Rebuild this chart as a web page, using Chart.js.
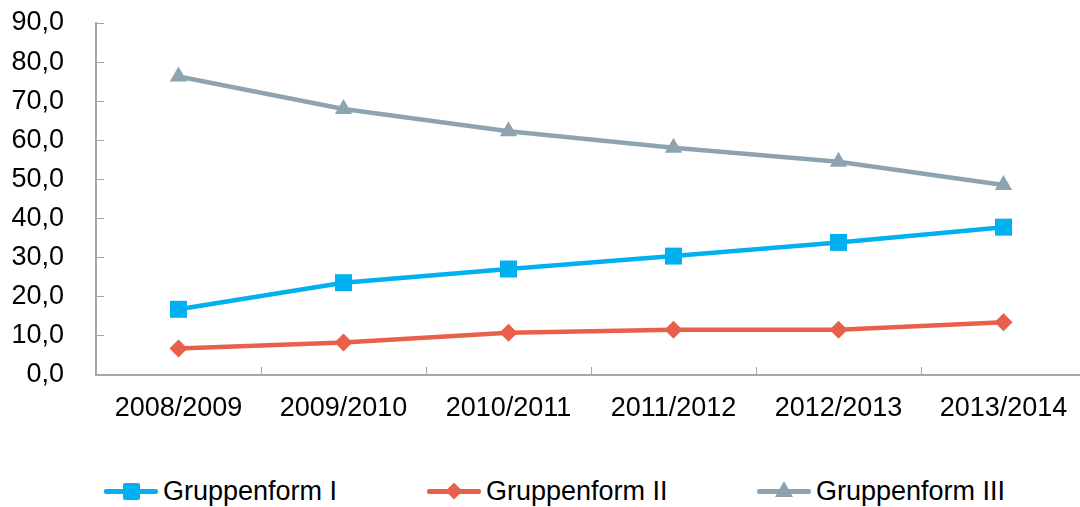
<!DOCTYPE html>
<html>
<head>
<meta charset="utf-8">
<script src="https://cdn.jsdelivr.net/npm/chart.js@4/dist/chart.umd.min.js"></script>
<style>
  html, body { margin: 0; padding: 0; background: #fff; overflow: hidden; }
  body { width: 1080px; height: 507px; position: relative; font-family: "Liberation Sans", Arial, sans-serif; }
  #wrap { position: absolute; left: 0; top: 0; width: 1098px; height: 440px; }
  #legend { position: absolute; left: 0; top: 474px; width: 1080px; height: 34px; }
  .item { position: absolute; top: 0; height: 34px; display: flex; align-items: center; }
  .sym { position: relative; width: 54px; height: 34px; }
  .sym .ln { position: absolute; left: 0; top: 15px; width: 54px; height: 5px; border-radius: 2px; }
  .sym .mk { position: absolute; }
  .txt { margin-left: 5px; font-size: 27px; color: #000; white-space: nowrap; }
</style>
</head>
<body>
<div id="wrap"><canvas id="chart"></canvas></div>
<div id="legend"></div>
<script>
// Daten
const years = ['2008/2009', '2009/2010', '2010/2011', '2011/2012', '2012/2013', '2013/2014'];
const gruppe1 = [16.8, 23.6, 27.1, 30.4, 33.9, 37.8];
const gruppe2 = [6.8, 8.3, 10.8, 11.6, 11.6, 13.5];
const gruppe3 = [76.3, 68.0, 62.3, 58.1, 54.5, 48.6];
const seriesNames = ['Gruppenform I', 'Gruppenform II', 'Gruppenform III'];
const yTicks = [0, 10, 20, 30, 40, 50, 60, 70, 80, 90];

const colors = ['#00b0f0', '#e8604a', '#8ea3b0'];
const axisColor = '#a6a6a6';
const tickFont = { family: '"Liberation Sans", Arial, sans-serif', size: 27 };

const chart = new Chart(document.getElementById('chart'), {
    type: 'line',
    data: {
        labels: years,
        datasets: [{
            label: seriesNames[0],
            data: gruppe1,
            borderColor: colors[0],
            backgroundColor: colors[0],
            borderWidth: 4.5,
            pointStyle: 'rect',
            pointRadius: 12,
            pointBorderWidth: 0
        }, {
            label: seriesNames[1],
            data: gruppe2,
            borderColor: colors[1],
            backgroundColor: colors[1],
            borderWidth: 4.5,
            pointStyle: 'rectRot',
            pointRadius: 9,
            pointBorderWidth: 0
        }, {
            label: seriesNames[2],
            data: gruppe3,
            borderColor: colors[2],
            backgroundColor: colors[2],
            borderWidth: 4.5,
            pointStyle: 'triangle',
            pointRadius: 10,
            pointBorderWidth: 0
        }]
    },
    options: {
        responsive: true,
        maintainAspectRatio: false,
        animation: false,
        layout: { padding: { top: 23, left: 0, right: 0, bottom: 0 } },
        plugins: {
            legend: { display: false },
            tooltip: { enabled: false }
        },
        scales: {
            x: {
                offset: true,
                grid: {
                    offset: true,
                    drawOnChartArea: false,
                    tickLength: -8, // Striche nach innen
                    color: axisColor
                },
                border: { color: axisColor, width: 2 },
                ticks: {
                    color: '#000',
                    padding: 25,
                    maxRotation: 0,
                    autoSkip: false,
                    font: tickFont
                },
                afterFit: (scale) => {
                    scale.height = 65;
                    scale.paddingLeft = 0;
                    scale.paddingRight = 0;
                }
            },
            y: {
                min: 0,
                max: 90,
                afterBuildTicks: (scale) => {
                    scale.ticks = yTicks.map(v => ({ value: v }));
                },
                grid: {
                    drawOnChartArea: false,
                    tickLength: -8,
                    color: axisColor
                },
                border: { color: axisColor, width: 2 },
                ticks: {
                    color: '#000',
                    padding: 40,
                    font: tickFont,
                    callback: (v) => v.toFixed(1).replace('.', ',')
                },
                afterFit: (scale) => {
                    scale.width = 96;
                    scale.paddingTop = 0;
                    scale.paddingBottom = 0;
                }
            }
        }
    }
});

// Legende (Linie mit Markierung)
const legendPos = [104, 427, 757];
const legend = document.getElementById('legend');
seriesNames.forEach((name, i) => {
    const item = document.createElement('div');
    item.className = 'item';
    item.style.left = legendPos[i] + 'px';
    const sym = document.createElement('div');
    sym.className = 'sym';
    const ln = document.createElement('div');
    ln.className = 'ln';
    ln.style.background = colors[i];
    sym.appendChild(ln);
    const mk = document.createElement('div');
    mk.className = 'mk';
    if (i === 0) {
        Object.assign(mk.style, { left: '19px', top: '9px', width: '17px', height: '17px', background: colors[i], borderRadius: '2px' });
    } else if (i === 1) {
        Object.assign(mk.style, { left: '21px', top: '11px', width: '12px', height: '12px', background: colors[i], transform: 'rotate(45deg)', borderRadius: '1px' });
    } else {
        Object.assign(mk.style, { left: '18px', top: '7px', width: '0', height: '0', borderLeft: '9px solid transparent', borderRight: '9px solid transparent', borderBottom: '16px solid ' + colors[i] });
    }
    sym.appendChild(mk);
    const txt = document.createElement('span');
    txt.className = 'txt';
    txt.textContent = name;
    item.appendChild(sym);
    item.appendChild(txt);
    legend.appendChild(item);
});
</script>
</body>
</html>
